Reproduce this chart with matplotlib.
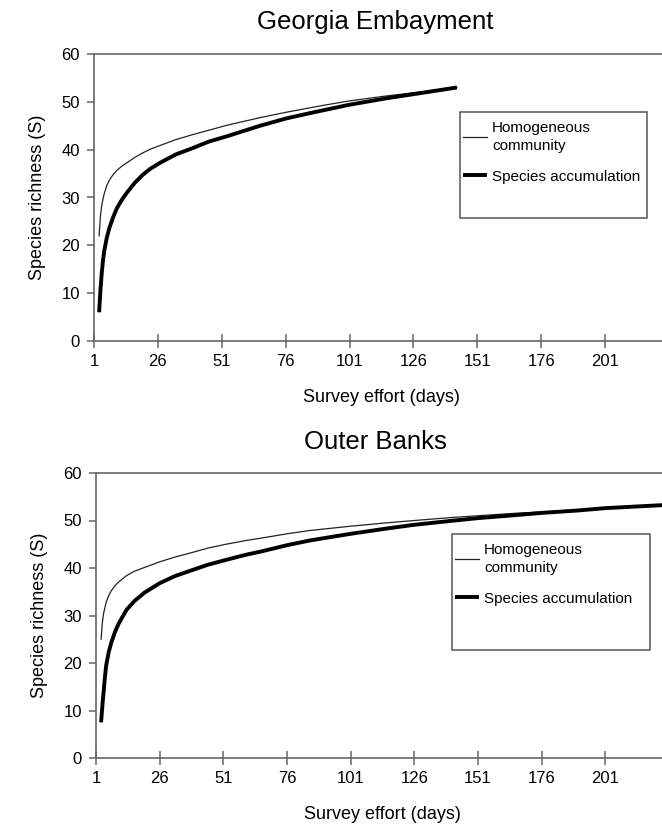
import matplotlib
matplotlib.use('Agg')
import matplotlib.pyplot as plt
from matplotlib.patches import Rectangle

plt.rcParams['font.family'] = ['Liberation Sans', 'DejaVu Sans']

# Georgia Embayment
geo_homog_days = [3, 3.5, 4, 5, 6, 7, 8.5, 10, 12, 14, 17, 20, 23, 27, 33, 40, 53, 66, 76,
                  90, 101, 115, 126, 143]
geo_homog_S = [22, 26, 28.3, 30.8, 32.5, 33.6, 34.8, 35.7, 36.6, 37.3, 38.4, 39.3, 40.1, 40.9,
               42.1, 43.2, 45.1, 46.7, 47.8, 49.2, 50.2, 51.2, 51.9, 53.0]
geo_accum_days = [3, 3.5, 4, 4.5, 5, 6, 7, 8.5, 10, 12, 14, 17, 20, 23, 27, 33, 40, 46, 53,
                  66, 76, 86, 101, 115, 126, 143]
geo_accum_S = [6, 10.5, 14, 16.8, 18.8, 21.6, 23.6, 25.9, 27.8, 29.6, 31.1, 33.1, 34.7, 36.0,
               37.3, 39.0, 40.4, 41.7, 42.8, 45.0, 46.5, 47.7, 49.4, 50.7, 51.6, 53.0]

# Outer Banks
ob_homog_days = [3, 3.5, 4, 5, 6, 7, 8.5, 10, 13, 16, 20, 26, 32, 39, 45, 52, 60, 66, 76, 85,
                 101, 115, 126, 140, 151, 165, 176, 190, 201, 215, 226]
ob_homog_S = [25, 28.5, 30.5, 32.8, 34.2, 35.2, 36.3, 37.1, 38.4, 39.3, 40.1, 41.3, 42.3, 43.3,
              44.2, 45.0, 45.8, 46.3, 47.2, 47.9, 48.8, 49.5, 50.0, 50.6, 51.0, 51.5, 51.8,
              52.2, 52.6, 53.0, 53.3]
ob_accum_days = [3, 3.5, 4, 4.5, 5, 6, 7, 8.5, 10, 13, 16, 20, 26, 32, 39, 45, 52, 60, 66, 76,
                 85, 101, 115, 126, 140, 151, 165, 176, 190, 201, 215, 226]
ob_accum_S = [7.5, 11, 14, 17, 19.5, 22.3, 24.3, 26.6, 28.4, 31.2, 33.0, 34.8, 36.8, 38.3, 39.6,
              40.7, 41.7, 42.8, 43.5, 44.8, 45.8, 47.2, 48.3, 49.1, 49.9, 50.5, 51.1, 51.6,
              52.1, 52.6, 53.0, 53.3]

x_ticks = [1, 26, 51, 76, 101, 126, 151, 176, 201]
y_ticks = [0, 10, 20, 30, 40, 50, 60]

W, H = 662, 830
fig = plt.figure(figsize=(W / 100, H / 100), dpi=100)

spine_col = '#666666'


def panel(rect, title, title_y, hd, hs, ad, as_, leg_box):
    ax = fig.add_axes(rect)
    ax.plot(hd, hs, color='#222222', lw=0.9, label='Homogeneous\ncommunity')
    ax.plot(ad, as_, color='black', lw=2.8, label='Species accumulation',
            solid_capstyle='butt', solid_joinstyle='round')
    ax.set_xlim(1, 226)
    ax.set_ylim(0, 60)
    ax.set_xticks(x_ticks)
    ax.set_yticks(y_ticks)
    for s in ['left', 'bottom', 'top', 'right']:
        ax.spines[s].set_color(spine_col)
        ax.spines[s].set_linewidth(1.2)
    ax.tick_params(axis='x', direction='inout', length=10, width=1.1, color=spine_col,
                   labelsize=12, pad=4)
    ax.tick_params(axis='y', direction='out', length=5, width=1.1, color=spine_col,
                   labelsize=12, pad=5)
    ax.set_xlabel('Survey effort (days)', fontsize=13, labelpad=15)
    ax.set_ylabel('Species richness (S)', fontsize=13, labelpad=11)
    fig.text(375 / W, 1 - title_y / H, title, fontsize=18.5, ha='center', va='center')

    x0, y0, x1, y1 = leg_box
    fig.patches.append(Rectangle((x0 / W, 1 - y1 / H), (x1 - x0) / W, (y1 - y0) / H,
                                 transform=fig.transFigure, fill=False,
                                 edgecolor='#555555', lw=1.1))
    leg = ax.legend(loc='upper left', bbox_to_anchor=((x0 + 3) / W, 1 - (y0 + 9) / H),
                    bbox_transform=fig.transFigure, frameon=False, fontsize=11,
                    handlelength=1.6, handletextpad=0.3, labelspacing=1.1,
                    borderaxespad=0, borderpad=0)
    leg.get_texts()[0].set_linespacing(1.35)
    return ax


panel([94 / W, 1 - 341 / H, 575 / W, 287 / H], 'Georgia Embayment', 22,
      geo_homog_days, geo_homog_S, geo_accum_days, geo_accum_S, (460, 112, 647, 218))
panel([96 / W, 1 - 758 / H, 573 / W, 285 / H], 'Outer Banks', 442,
      ob_homog_days, ob_homog_S, ob_accum_days, ob_accum_S, (452, 534, 650, 650))

fig.savefig('out.png', dpi=100)
